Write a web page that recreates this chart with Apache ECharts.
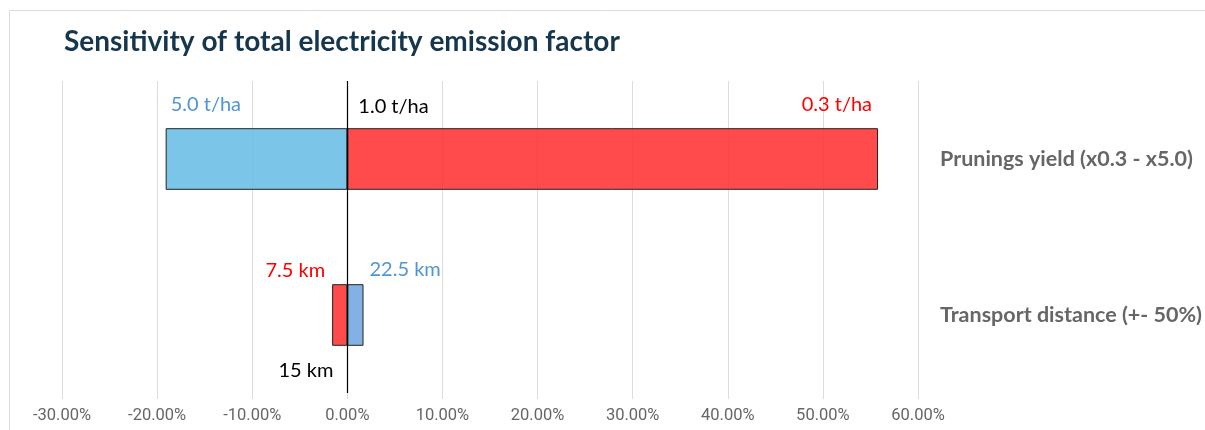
<!DOCTYPE html>
<html>
<head>
<meta charset="utf-8">
<script src="https://cdn.jsdelivr.net/npm/echarts@6/dist/echarts.min.js"></script>
<style>
  html, body { margin: 0; padding: 0; background: #fff; }
  #chart { width: 1205px; height: 430px; }
</style>
</head>
<body>
<div id="chart"></div>
<script>
// Sensitivity parameters, top to bottom
const categories = ['Prunings yield (x0.3 - x5.0)', 'Transport distance (+- 50%)'];
// Change in total electricity emission factor (%) on each side of the base case
const lowSide = [-19.1, -1.6];
const highSide = [55.8, 1.7];
// Parameter values behind each bar end and the base case
const lowSideLabels = ['5.0 t/ha', '7.5 km'];
const highSideLabels = ['0.3 t/ha', '22.5 km'];
const baseLabels = ['1.0 t/ha', '15 km'];
// X axis ticks (%)
const xTicks = [-30, -20, -10, 0, 10, 20, 30, 40, 50, 60];

const RED = 'rgba(255, 40, 40, 0.84)';
const SKY = 'rgba(100, 188, 228, 0.86)';
const STEEL = 'rgba(110, 165, 222, 0.86)';
const RED_TEXT = '#ff0000';
const BLUE_TEXT = '#4f95d6';

// Fill per row: first row shrinks to the left in blue, second row in red
const lowFill = [SKY, RED];
const highFill = [RED, STEEL];
const lowText = [BLUE_TEXT, RED_TEXT];
const highText = [RED_TEXT, BLUE_TEXT];

const labelFont = { fontFamily: 'Lato', fontSize: 20 };

// Label placement around each bar
const lowPlace = [
  { align: 'left', offset: [5, -54] },
  { align: 'right', offset: [-7, -44] }
];
const highPlace = [
  { align: 'right', offset: [-6, -54] },
  { align: 'left', offset: [6, -45] }
];
const basePlace = [
  { align: 'left', offset: [11, -52] },
  { align: 'right', offset: [-14, 56] }
];

function textPoints(values, texts, colors, places) {
  return categories.map((c, i) => ({
    value: [values[i], c],
    label: Object.assign({
      show: true,
      position: 'inside',
      verticalAlign: 'middle',
      formatter: texts[i],
      color: colors[i],
      opacity: 1
    }, labelFont, places[i])
  }));
}

function barItems(values, fills) {
  return values.map((v, i) => ({
    value: v,
    itemStyle: { color: fills[i], borderColor: '#222', borderWidth: 1 }
  }));
}

const textSeries = (values, texts, colors, places) => ({
  type: 'scatter',
  symbolSize: 0,
  silent: true,
  itemStyle: { opacity: 1 },
  z: 6,
  data: textPoints(values, texts, colors, places)
});

const chart = echarts.init(document.getElementById('chart'));
chart.setOption({
  animation: false,
  backgroundColor: '#fff',
  title: {
    text: 'Sensitivity of total electricity emission factor',
    left: 64,
    top: 28,
    padding: 0,
    textStyle: { fontFamily: 'Lato', fontWeight: 'bold', fontSize: 28, color: '#15364d' }
  },
  graphic: [{
    type: 'rect',
    shape: { x: 9.5, y: 10.5, width: 1400, height: 600 },
    style: { fill: 'none', stroke: '#dcdcdc', lineWidth: 1 },
    silent: true,
    z: -10
  }],
  grid: { left: 62, right: 287, top: 81, bottom: 37 },
  xAxis: {
    type: 'value',
    min: xTicks[0],
    max: xTicks[xTicks.length - 1],
    interval: 10,
    axisLine: { show: false },
    axisTick: { show: true, length: 6, lineStyle: { color: '#dcdcdc' } },
    splitLine: { lineStyle: { color: '#dcdcdc', width: 1 } },
    axisLabel: {
      margin: 14,
      fontFamily: 'Roboto',
      fontSize: 16.5,
      color: '#666',
      formatter: (v) => v.toFixed(2) + '%'
    }
  },
  yAxis: {
    type: 'category',
    data: categories,
    inverse: true,
    position: 'right',
    axisLine: { show: false },
    axisTick: { show: false },
    splitLine: { show: false },
    axisLabel: {
      align: 'left',
      margin: 22,
      fontFamily: 'Lato',
      fontWeight: 'bold',
      fontSize: 21.5,
      color: '#666',
      padding: [4, 0, 0, 0]
    }
  },
  series: [
    {
      name: 'Low side',
      type: 'bar',
      data: barItems(lowSide, lowFill),
      barWidth: '39.5%',
      barGap: '-100%',
      z: 3,
      markLine: {
        silent: true,
        symbol: 'none',
        label: { show: false },
        lineStyle: { color: '#000', width: 1.2, type: 'solid' },
        data: [{ xAxis: 0 }],
        z: 5
      }
    },
    {
      name: 'High side',
      type: 'bar',
      data: barItems(highSide, highFill),
      barWidth: '39.5%',
      barGap: '-100%',
      z: 3
    },
    textSeries(lowSide, lowSideLabels, lowText, lowPlace),
    textSeries(highSide, highSideLabels, highText, highPlace),
    textSeries([0, 0], baseLabels, ['#000', '#000'], basePlace)
  ]
});
</script>
</body>
</html>
